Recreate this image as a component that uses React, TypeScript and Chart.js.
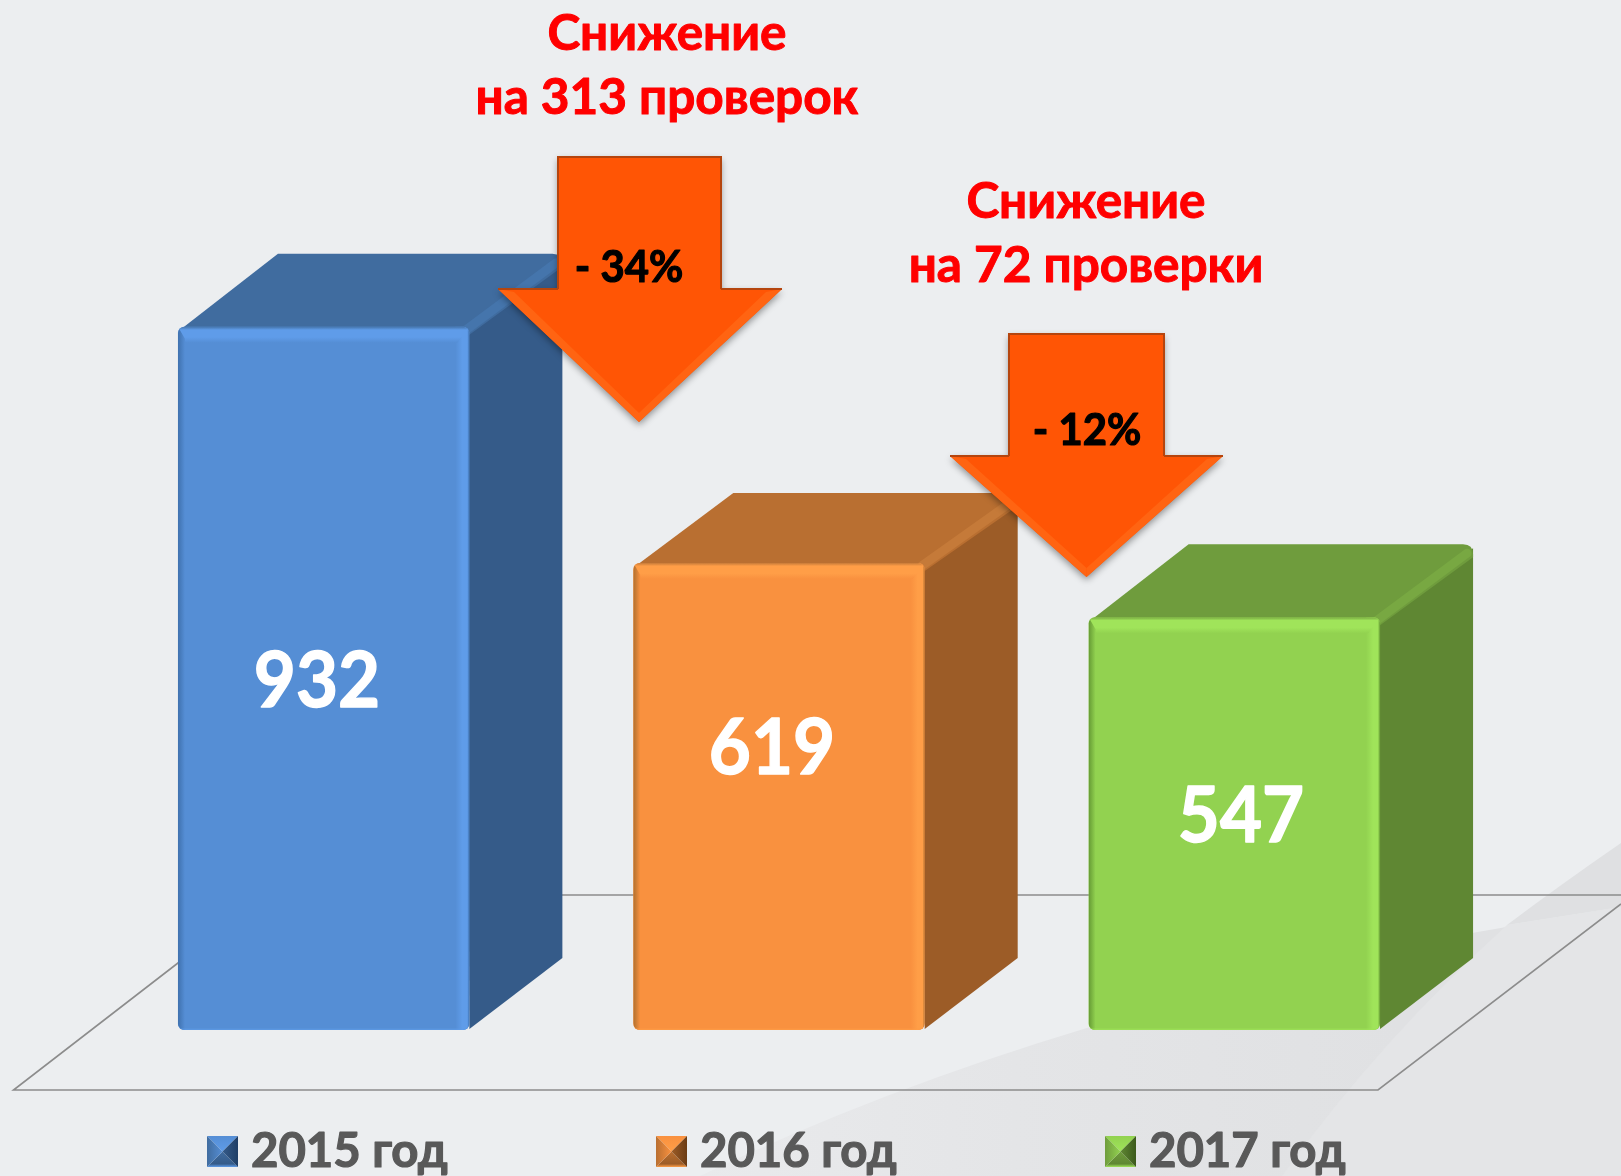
import React, { useEffect, useRef } from "react";
import { Chart, registerables } from "chart.js";

Chart.register(...registerables);

// ---- data ----
const categories = ["2015 год", "2016 год", "2017 год"];
const values = [932, 619, 547];
const legendLabels = ["2015 год", "2016 год", "2017 год"];
const dropTitles = [
  ["Снижение", "на 313 проверок"],
  ["Снижение", "на 72 проверки"],
];
const dropPercents = ["- 34%", "- 12%"];

// ---- styles / layout ----
const W = 1621;
const H = 1176;
const FONT = '"Lato", "Open Sans", sans-serif';
const faces = [
  { front: "#558ED5", light: "#5F9CE9", dark: "#3F71AE", side: "#355B89", top: "#406C9F", ridge: "#4575AC", deep: "#1F3E66" },
  { front: "#F9913F", light: "#FF9E47", dark: "#B0702F", side: "#9C5C27", top: "#B96F31", ridge: "#C57A39", deep: "#6B3C14" },
  { front: "#92D250", light: "#A0E45A", dark: "#659A34", side: "#5F8733", top: "#6F9C3D", ridge: "#78A842", deep: "#3C5A1C" },
];
const DX = 94;
const topDepths = [73, 70, 73];
const labelPos = [
  { x: 317, y: 682 },
  { x: 772, y: 749 },
  { x: 1241, y: 817 },
];
const arrows = [
  { shaftL: 558, shaftR: 721, top: 157, shoulder: 289, headL: 498, headR: 782, tipX: 639, tipY: 422, textX: 629, textY: 268, titleX: 667, titleY: [34, 98] },
  { shaftL: 1009, shaftR: 1164, top: 334, shoulder: 456, headL: 950, headR: 1223, tipX: 1086.5, tipY: 577, textX: 1087, textY: 431, titleX: 1086, titleY: [202, 266] },
];
const legendX = [207, 656, 1105];

function poly(ctx: CanvasRenderingContext2D, pts: number[][], fill: string | CanvasGradient) {
  ctx.beginPath();
  pts.forEach((p, i) => (i ? ctx.lineTo(p[0], p[1]) : ctx.moveTo(p[0], p[1])));
  ctx.closePath();
  ctx.fillStyle = fill;
  ctx.fill();
}

// Lato is a little wider and thinner than the original face: squeeze and embolden it.
function heavyText(
  ctx: CanvasRenderingContext2D,
  text: string,
  x: number,
  y: number,
  size: number,
  color: string,
  squeeze = 1,
  bold = 1
) {
  ctx.save();
  ctx.translate(x, y);
  ctx.scale(squeeze, 1);
  ctx.font = `bold ${size}px ${FONT}`;
  ctx.fillStyle = color;
  ctx.strokeStyle = color;
  ctx.lineWidth = bold;
  ctx.lineJoin = "round";
  ctx.fillText(text, 0, 0);
  ctx.strokeText(text, 0, 0);
  ctx.restore();
}

const backgroundPlugin = {
  id: "backdrop",
  beforeDraw(chart: any) {
    const ctx: CanvasRenderingContext2D = chart.ctx;
    ctx.save();
    ctx.fillStyle = "#ECEEF0";
    ctx.fillRect(0, 0, W, H);

    const g = ctx.createLinearGradient(700, 0, 1400, 0);
    g.addColorStop(0, "#E9EAEC");
    g.addColorStop(0.45, "#E4E5E7");
    g.addColorStop(1, "#E0E1E3");
    ctx.beginPath();
    ctx.moveTo(700, 1176);
    ctx.quadraticCurveTo(880, 1090, 1090, 1027);
    ctx.quadraticCurveTo(1300, 965, 1472, 933);
    ctx.lineTo(1621, 907);
    ctx.lineTo(1621, 1176);
    ctx.closePath();
    ctx.fillStyle = g;
    ctx.fill();

    ctx.beginPath();
    ctx.moveTo(1282, 1176);
    ctx.quadraticCurveTo(1380, 1040, 1507, 925);
    ctx.lineTo(1621, 907);
    ctx.lineTo(1621, 1176);
    ctx.closePath();
    ctx.fillStyle = "#E4E5E7";
    ctx.fill();

    ctx.beginPath();
    ctx.moveTo(1507, 925);
    ctx.quadraticCurveTo(1560, 885, 1621, 843);
    ctx.lineTo(1621, 907);
    ctx.closePath();
    ctx.fillStyle = "#DFE0E2";
    ctx.fill();

    // floor outline
    ctx.strokeStyle = "#8C8C8C";
    ctx.lineWidth = 1.6;
    ctx.beginPath();
    ctx.moveTo(1621, 895);
    ctx.lineTo(266, 895);
    ctx.moveTo(266, 895);
    ctx.lineTo(13.5, 1090);
    ctx.lineTo(1378, 1090);
    ctx.lineTo(1621, 904);
    ctx.stroke();
    ctx.restore();
  },
};

const solidPlugin = {
  id: "solid",
  beforeDatasetsDraw(chart: any) {
    const ctx: CanvasRenderingContext2D = chart.ctx;
    const bars = chart.getDatasetMeta(0).data;
    ctx.save();
    bars.forEach((b: any, i: number) => {
      const f = faces[i];
      const DY = topDepths[i];
      const l = b.x - b.width / 2;
      const r = b.x + b.width / 2;
      const t = b.y;
      const bot = b.base;
      poly(ctx, [[r - 3, t], [r + DX - 1, t - DY + 4], [r + DX - 1, bot - 72], [r, bot - 1]], f.side);
      ctx.beginPath();
      ctx.moveTo(l + 1, t + 4);
      ctx.lineTo(l + DX + 6, t - DY);
      ctx.lineTo(r + DX - 11, t - DY);
      ctx.quadraticCurveTo(r + DX - 1, t - DY, r + DX - 1, t - DY + 10);
      ctx.lineTo(r + DX - 1, t - DY + 13);
      ctx.lineTo(r, t + 8);
      ctx.closePath();
      ctx.fillStyle = f.top;
      ctx.fill();
      // bevelled edge running back from the front-right corner
      ctx.strokeStyle = f.ridge;
      ctx.lineWidth = 9;
      ctx.lineCap = "round";
      ctx.beginPath();
      ctx.moveTo(r - 3, t + 3);
      ctx.lineTo(r + DX - 7, t - DY + 9);
      ctx.stroke();
    });
    ctx.restore();
  },
  afterDatasetsDraw(chart: any) {
    const ctx: CanvasRenderingContext2D = chart.ctx;
    const bars = chart.getDatasetMeta(0).data;
    ctx.save();
    bars.forEach((b: any, i: number) => {
      const f = faces[i];
      const l = b.x - b.width / 2;
      const r = b.x + b.width / 2;
      const t = b.y;
      const bot = b.base;
      ctx.save();
      ctx.beginPath();
      ctx.roundRect(l, t, b.width, bot - t, 7);
      ctx.clip();

      // right bevel
      let g = ctx.createLinearGradient(r - 14, 0, r, 0);
      g.addColorStop(0, f.front);
      g.addColorStop(0.5, f.light);
      g.addColorStop(0.85, f.light);
      g.addColorStop(1, f.dark);
      ctx.fillStyle = g;
      ctx.fillRect(r - 14, t, 14, bot - t);

      // top bevel
      g = ctx.createLinearGradient(0, t, 0, t + 16);
      g.addColorStop(0, f.ridge);
      g.addColorStop(0.2, f.light);
      g.addColorStop(0.65, f.light);
      g.addColorStop(1, f.front);
      ctx.fillStyle = g;
      ctx.beginPath();
      ctx.moveTo(l, t);
      ctx.lineTo(r, t);
      ctx.lineTo(r - 12, t + 16);
      ctx.lineTo(l + 8, t + 16);
      ctx.closePath();
      ctx.fill();

      // left bevel
      g = ctx.createLinearGradient(l, 0, l + 7, 0);
      g.addColorStop(0, f.dark);
      g.addColorStop(1, f.front);
      ctx.fillStyle = g;
      ctx.beginPath();
      ctx.moveTo(l, t);
      ctx.lineTo(l + 7, t + 12);
      ctx.lineTo(l + 7, bot);
      ctx.lineTo(l, bot);
      ctx.closePath();
      ctx.fill();

      ctx.globalAlpha = 0.6;
      ctx.fillStyle = f.light;
      ctx.fillRect(l, bot - 1.5, b.width, 1.5);
      ctx.restore();

      ctx.textAlign = "center";
      ctx.textBaseline = "middle";
      heavyText(ctx, String(values[i]), labelPos[i].x, labelPos[i].y, 76, "#FFFFFF", 0.955, 1.4);
    });
    ctx.restore();
  },
};

const annotationPlugin = {
  id: "annotations",
  afterDraw(chart: any) {
    const ctx: CanvasRenderingContext2D = chart.ctx;
    ctx.save();
    arrows.forEach((a, i) => {
      const outline = [
        [a.shaftL, a.top], [a.shaftR, a.top], [a.shaftR, a.shoulder], [a.headR, a.shoulder],
        [a.tipX, a.tipY], [a.headL, a.shoulder], [a.shaftL, a.shoulder],
      ];
      ctx.save();
      ctx.shadowColor = "rgba(0,0,0,0.4)";
      ctx.shadowBlur = 7;
      ctx.shadowOffsetY = 3;
      poly(ctx, outline, "#FF5505");
      ctx.restore();

      // bevel on head edges
      poly(ctx, [[a.headL, a.shoulder], [a.tipX, a.tipY], [a.tipX, a.tipY - 9], [a.headL + 16, a.shoulder + 3]], "#FF6412");
      poly(ctx, [[a.headR, a.shoulder], [a.tipX, a.tipY], [a.tipX, a.tipY - 9], [a.headR - 16, a.shoulder + 3]], "#FF6412");
      // dark rims
      ctx.strokeStyle = "#B5450E";
      ctx.lineWidth = 2;
      ctx.beginPath();
      ctx.moveTo(a.shaftL, a.shoulder);
      ctx.lineTo(a.shaftL, a.top);
      ctx.lineTo(a.shaftR, a.top);
      ctx.lineTo(a.shaftR, a.shoulder);
      ctx.moveTo(a.headL, a.shoulder);
      ctx.lineTo(a.shaftL, a.shoulder);
      ctx.moveTo(a.shaftR, a.shoulder);
      ctx.lineTo(a.headR, a.shoulder);
      ctx.stroke();

      ctx.textAlign = "center";
      ctx.textBaseline = "middle";
      heavyText(ctx, dropPercents[i], a.textX, a.textY, 44, "#000000", 0.95, 1.2);
      dropTitles[i].forEach((line, j) =>
        heavyText(ctx, line, a.titleX, a.titleY[j], 49.5, "#FF0000", 1, 1)
      );
    });

    // legend
    legendLabels.forEach((label, i) => {
      const f = faces[i];
      const x = legendX[i];
      const y = 1136;
      const s = 31;
      const cx = x + s / 2;
      const cy = y + s / 2;
      let g = ctx.createLinearGradient(0, y, 0, cy);
      g.addColorStop(0, f.front);
      g.addColorStop(1, f.light);
      poly(ctx, [[x, y], [x + s, y], [cx, cy]], g);
      g = ctx.createLinearGradient(0, cy, 0, y + s);
      g.addColorStop(0, f.top);
      g.addColorStop(0.8, f.side);
      g.addColorStop(1, f.light);
      poly(ctx, [[x, y + s], [x + s, y + s], [cx, cy]], g);
      g = ctx.createLinearGradient(x, 0, cx, 0);
      g.addColorStop(0, f.top);
      g.addColorStop(1, f.front);
      poly(ctx, [[x, y], [x, y + s], [cx, cy]], g);
      g = ctx.createLinearGradient(cx, 0, x + s, 0);
      g.addColorStop(0, f.side);
      g.addColorStop(1, f.deep);
      poly(ctx, [[x + s, y], [x + s, y + s], [cx, cy]], g);

      ctx.textAlign = "left";
      ctx.textBaseline = "alphabetic";
      heavyText(ctx, label, x + 44, 1167, 48, "#595959", 0.985, 1.2);
    });
    ctx.restore();
  },
};

export default function App() {
  const ref = useRef<HTMLCanvasElement>(null);
  useEffect(() => {
    document.body.style.margin = "0";
    const chart = new Chart(ref.current!, {
      type: "bar",
      data: {
        labels: categories,
        datasets: [
          {
            data: values,
            backgroundColor: faces.map((f) => f.front),
            barPercentage: 0.64,
            categoryPercentage: 1,
            borderRadius: 6,
            borderSkipped: false,
          },
        ],
      },
      options: {
        responsive: false,
        animation: false,
        layout: { padding: { left: 96, right: 159, top: 0, bottom: 146 } },
        plugins: { legend: { display: false }, tooltip: { enabled: false }, title: { display: false } },
        scales: {
          x: { display: false },
          y: { display: false, min: 0, max: 1365 },
        },
      },
      plugins: [backgroundPlugin, solidPlugin, annotationPlugin],
    } as any);
    return () => chart.destroy();
  }, []);
  return <canvas ref={ref} width={W} height={H} style={{ display: "block", width: W, height: H }} />;
}
